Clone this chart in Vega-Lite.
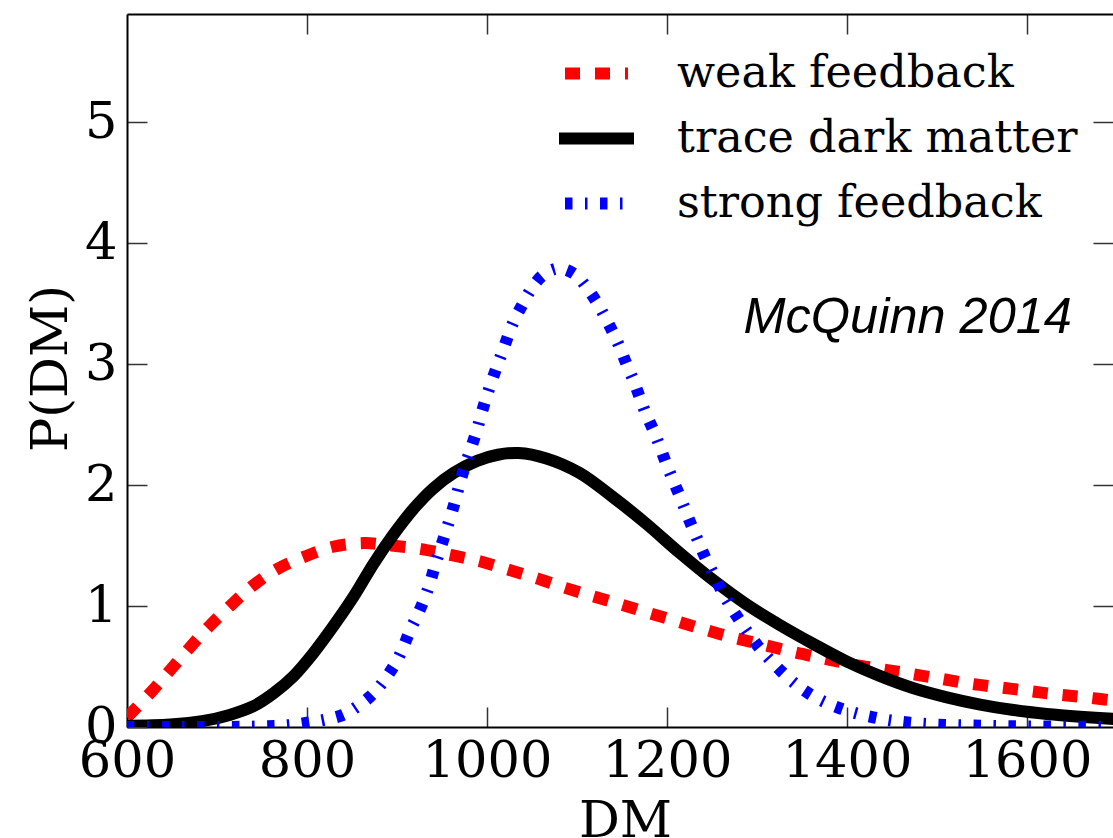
{
  "$schema": "https://vega.github.io/schema/vega-lite/v6.json",
  "width": 986,
  "height": 713,
  "autosize": "none",
  "padding": {"left": 127, "top": 14, "right": 0, "bottom": 111},
  "background": "white",
  "config": {
    "view": {"stroke": null},
    "axis": {
      "grid": false,
      "tickSize": -20,
      "tickColor": "#333333",
      "tickWidth": 1.5,
      "domainColor": "black",
      "domainWidth": 2,
      "labelFont": "DejaVu Serif",
      "labelFontSize": 51,
      "labelColor": "black",
      "labelPadding": 30,
      "labelOverlap": false,
      "labelFlush": false,
      "titleFont": "DejaVu Serif",
      "titleFontSize": 51,
      "titleFontWeight": "normal",
      "titleColor": "black"
    }
  },
  "data": {"values": [
    {"series": "weak feedback", "dm": 600, "p": 0.08},
    {"series": "weak feedback", "dm": 627, "p": 0.29},
    {"series": "weak feedback", "dm": 648, "p": 0.47},
    {"series": "weak feedback", "dm": 669, "p": 0.65},
    {"series": "weak feedback", "dm": 691, "p": 0.83},
    {"series": "weak feedback", "dm": 716, "p": 1.01},
    {"series": "weak feedback", "dm": 740, "p": 1.17},
    {"series": "weak feedback", "dm": 768, "p": 1.31},
    {"series": "weak feedback", "dm": 798, "p": 1.41},
    {"series": "weak feedback", "dm": 829, "p": 1.49},
    {"series": "weak feedback", "dm": 863, "p": 1.52},
    {"series": "weak feedback", "dm": 894, "p": 1.5},
    {"series": "weak feedback", "dm": 927, "p": 1.47},
    {"series": "weak feedback", "dm": 961, "p": 1.42},
    {"series": "weak feedback", "dm": 992, "p": 1.37},
    {"series": "weak feedback", "dm": 1024, "p": 1.3},
    {"series": "weak feedback", "dm": 1055, "p": 1.23},
    {"series": "weak feedback", "dm": 1087, "p": 1.15},
    {"series": "weak feedback", "dm": 1118, "p": 1.08},
    {"series": "weak feedback", "dm": 1150, "p": 1.01},
    {"series": "weak feedback", "dm": 1181, "p": 0.94},
    {"series": "weak feedback", "dm": 1213, "p": 0.87},
    {"series": "weak feedback", "dm": 1244, "p": 0.8},
    {"series": "weak feedback", "dm": 1276, "p": 0.735},
    {"series": "weak feedback", "dm": 1307, "p": 0.68},
    {"series": "weak feedback", "dm": 1340, "p": 0.62},
    {"series": "weak feedback", "dm": 1372, "p": 0.57},
    {"series": "weak feedback", "dm": 1404, "p": 0.52},
    {"series": "weak feedback", "dm": 1437, "p": 0.48},
    {"series": "weak feedback", "dm": 1470, "p": 0.44},
    {"series": "weak feedback", "dm": 1503, "p": 0.4},
    {"series": "weak feedback", "dm": 1535, "p": 0.36},
    {"series": "weak feedback", "dm": 1567, "p": 0.33},
    {"series": "weak feedback", "dm": 1600, "p": 0.3},
    {"series": "weak feedback", "dm": 1632, "p": 0.27},
    {"series": "weak feedback", "dm": 1665, "p": 0.245},
    {"series": "weak feedback", "dm": 1700, "p": 0.215},

    {"series": "trace dark matter", "dm": 600, "p": 0.01},
    {"series": "trace dark matter", "dm": 648, "p": 0.02},
    {"series": "trace dark matter", "dm": 685, "p": 0.05},
    {"series": "trace dark matter", "dm": 714, "p": 0.1},
    {"series": "trace dark matter", "dm": 740, "p": 0.17},
    {"series": "trace dark matter", "dm": 763, "p": 0.28},
    {"series": "trace dark matter", "dm": 785, "p": 0.42},
    {"series": "trace dark matter", "dm": 807, "p": 0.61},
    {"series": "trace dark matter", "dm": 829, "p": 0.83},
    {"series": "trace dark matter", "dm": 852, "p": 1.08},
    {"series": "trace dark matter", "dm": 874, "p": 1.35},
    {"series": "trace dark matter", "dm": 896, "p": 1.59},
    {"series": "trace dark matter", "dm": 918, "p": 1.8},
    {"series": "trace dark matter", "dm": 940, "p": 1.97},
    {"series": "trace dark matter", "dm": 963, "p": 2.1},
    {"series": "trace dark matter", "dm": 989, "p": 2.2},
    {"series": "trace dark matter", "dm": 1012, "p": 2.25},
    {"series": "trace dark matter", "dm": 1035, "p": 2.265},
    {"series": "trace dark matter", "dm": 1066, "p": 2.22},
    {"series": "trace dark matter", "dm": 1103, "p": 2.1},
    {"series": "trace dark matter", "dm": 1140, "p": 1.9},
    {"series": "trace dark matter", "dm": 1177, "p": 1.68},
    {"series": "trace dark matter", "dm": 1214, "p": 1.44},
    {"series": "trace dark matter", "dm": 1252, "p": 1.21},
    {"series": "trace dark matter", "dm": 1289, "p": 1.01},
    {"series": "trace dark matter", "dm": 1326, "p": 0.84},
    {"series": "trace dark matter", "dm": 1363, "p": 0.685},
    {"series": "trace dark matter", "dm": 1400, "p": 0.54},
    {"series": "trace dark matter", "dm": 1437, "p": 0.42},
    {"series": "trace dark matter", "dm": 1474, "p": 0.32},
    {"series": "trace dark matter", "dm": 1511, "p": 0.245},
    {"series": "trace dark matter", "dm": 1548, "p": 0.185},
    {"series": "trace dark matter", "dm": 1585, "p": 0.14},
    {"series": "trace dark matter", "dm": 1622, "p": 0.108},
    {"series": "trace dark matter", "dm": 1659, "p": 0.085},
    {"series": "trace dark matter", "dm": 1700, "p": 0.065},

    {"series": "strong feedback", "dm": 600, "p": 0.0},
    {"series": "strong feedback", "dm": 650, "p": 0.0},
    {"series": "strong feedback", "dm": 700, "p": 0.0},
    {"series": "strong feedback", "dm": 750, "p": 0.005},
    {"series": "strong feedback", "dm": 780, "p": 0.015},
    {"series": "strong feedback", "dm": 800, "p": 0.035},
    {"series": "strong feedback", "dm": 820, "p": 0.06},
    {"series": "strong feedback", "dm": 840, "p": 0.1},
    {"series": "strong feedback", "dm": 856, "p": 0.17},
    {"series": "strong feedback", "dm": 870, "p": 0.25},
    {"series": "strong feedback", "dm": 880, "p": 0.33},
    {"series": "strong feedback", "dm": 890, "p": 0.43},
    {"series": "strong feedback", "dm": 900, "p": 0.55},
    {"series": "strong feedback", "dm": 907, "p": 0.66},
    {"series": "strong feedback", "dm": 914, "p": 0.79},
    {"series": "strong feedback", "dm": 923, "p": 0.93},
    {"series": "strong feedback", "dm": 931, "p": 1.07},
    {"series": "strong feedback", "dm": 937, "p": 1.2},
    {"series": "strong feedback", "dm": 942, "p": 1.33},
    {"series": "strong feedback", "dm": 948, "p": 1.47},
    {"series": "strong feedback", "dm": 954, "p": 1.61},
    {"series": "strong feedback", "dm": 960, "p": 1.75},
    {"series": "strong feedback", "dm": 965, "p": 1.88},
    {"series": "strong feedback", "dm": 970, "p": 2.02},
    {"series": "strong feedback", "dm": 976, "p": 2.17},
    {"series": "strong feedback", "dm": 982, "p": 2.3},
    {"series": "strong feedback", "dm": 989, "p": 2.46},
    {"series": "strong feedback", "dm": 995, "p": 2.62},
    {"series": "strong feedback", "dm": 1003, "p": 2.81},
    {"series": "strong feedback", "dm": 1011, "p": 2.98},
    {"series": "strong feedback", "dm": 1018, "p": 3.12},
    {"series": "strong feedback", "dm": 1029, "p": 3.34},
    {"series": "strong feedback", "dm": 1040, "p": 3.5},
    {"series": "strong feedback", "dm": 1050, "p": 3.63},
    {"series": "strong feedback", "dm": 1063, "p": 3.74},
    {"series": "strong feedback", "dm": 1080, "p": 3.79},
    {"series": "strong feedback", "dm": 1098, "p": 3.74},
    {"series": "strong feedback", "dm": 1111, "p": 3.63},
    {"series": "strong feedback", "dm": 1122, "p": 3.51},
    {"series": "strong feedback", "dm": 1131, "p": 3.39},
    {"series": "strong feedback", "dm": 1140, "p": 3.26},
    {"series": "strong feedback", "dm": 1148, "p": 3.13},
    {"series": "strong feedback", "dm": 1155, "p": 3.0},
    {"series": "strong feedback", "dm": 1163, "p": 2.86},
    {"series": "strong feedback", "dm": 1169, "p": 2.74},
    {"series": "strong feedback", "dm": 1176, "p": 2.6},
    {"series": "strong feedback", "dm": 1185, "p": 2.45},
    {"series": "strong feedback", "dm": 1192, "p": 2.32},
    {"series": "strong feedback", "dm": 1198, "p": 2.2},
    {"series": "strong feedback", "dm": 1205, "p": 2.07},
    {"series": "strong feedback", "dm": 1213, "p": 1.93},
    {"series": "strong feedback", "dm": 1220, "p": 1.8},
    {"series": "strong feedback", "dm": 1227, "p": 1.67},
    {"series": "strong feedback", "dm": 1235, "p": 1.53},
    {"series": "strong feedback", "dm": 1242, "p": 1.41},
    {"series": "strong feedback", "dm": 1252, "p": 1.26},
    {"series": "strong feedback", "dm": 1259, "p": 1.15},
    {"series": "strong feedback", "dm": 1268, "p": 1.03},
    {"series": "strong feedback", "dm": 1279, "p": 0.9},
    {"series": "strong feedback", "dm": 1290, "p": 0.78},
    {"series": "strong feedback", "dm": 1301, "p": 0.67},
    {"series": "strong feedback", "dm": 1314, "p": 0.56},
    {"series": "strong feedback", "dm": 1327, "p": 0.46},
    {"series": "strong feedback", "dm": 1342, "p": 0.36},
    {"series": "strong feedback", "dm": 1357, "p": 0.28},
    {"series": "strong feedback", "dm": 1374, "p": 0.21},
    {"series": "strong feedback", "dm": 1392, "p": 0.155},
    {"series": "strong feedback", "dm": 1410, "p": 0.113},
    {"series": "strong feedback", "dm": 1429, "p": 0.08},
    {"series": "strong feedback", "dm": 1448, "p": 0.055},
    {"series": "strong feedback", "dm": 1470, "p": 0.035},
    {"series": "strong feedback", "dm": 1500, "p": 0.02},
    {"series": "strong feedback", "dm": 1550, "p": 0.01},
    {"series": "strong feedback", "dm": 1600, "p": 0.005},
    {"series": "strong feedback", "dm": 1650, "p": 0.003},
    {"series": "strong feedback", "dm": 1700, "p": 0.002},

    {"series": "label", "dm": 1650, "p": 3.26, "text": "McQuinn 2014"}
  ]},
  "resolve": {"axis": {"x": "independent", "y": "independent"}},
  "layer": [
    {
      "transform": [{"filter": "datum.series === 'weak feedback'"}],
      "mark": {"type": "line", "strokeWidth": 12, "clip": true, "interpolate": "catmull-rom", "strokeCap": "butt"},
      "encoding": {
        "x": {"field": "dm", "type": "quantitative",
          "scale": {"domain": [600, 1695.6], "nice": false, "zero": false},
          "axis": {"orient": "bottom", "values": [600, 800, 1000, 1200, 1400, 1600], "format": "d", "title": "DM", "titleX": 498, "titleY": 109, "titleBaseline": "alphabetic", "titleAlign": "center", "labelBaseline": "alphabetic", "labelPadding": 69}},
        "y": {"field": "p", "type": "quantitative",
          "scale": {"domain": [0, 5.893], "nice": false, "zero": false},
          "axis": {"orient": "left", "values": [0, 1, 2, 3, 4, 5], "format": "d", "title": "P(DM)", "titleX": -76, "titleY": 354, "titleAngle": -90, "titleBaseline": "middle", "titleAlign": "center"}},
        "color": {"field": "series", "type": "nominal",
          "scale": {"domain": ["weak feedback", "trace dark matter", "strong feedback"], "range": ["#ff0000", "#000000", "#0000ff"]},
          "legend": {"orient": "none", "legendX": 432, "legendY": 22, "title": null, "symbolType": "stroke", "symbolSize": 3969, "symbolStrokeWidth": 12, "labelFont": "DejaVu Serif", "labelFontSize": 44.5, "labelColor": "black", "labelOffset": 43, "rowPadding": 3, "labelLimit": 0, "padding": 0, "offset": 0,
            "encode": {"symbols": {"update": {"strokeCap": [{"test": "datum.value === 'trace dark matter'", "value": "square"}, {"value": "butt"}]}}}}},
        "strokeDash": {"field": "series", "type": "nominal",
          "scale": {"domain": ["weak feedback", "trace dark matter", "strong feedback"], "range": [[15, 15], [100000, 0], [7.5, 12.5, 2.5, 12.5]]},
          "legend": {"orient": "none", "legendX": 432, "legendY": 22, "title": null, "symbolType": "stroke", "symbolSize": 3969, "symbolStrokeWidth": 12, "labelFont": "DejaVu Serif", "labelFontSize": 44.5, "labelColor": "black", "labelOffset": 43, "rowPadding": 3, "labelLimit": 0, "padding": 0, "offset": 0,
            "encode": {"symbols": {"update": {"strokeCap": [{"test": "datum.value === 'trace dark matter'", "value": "square"}, {"value": "butt"}]}}}}}
      }
    },
    {
      "transform": [{"filter": "datum.series === 'trace dark matter'"}],
      "mark": {"type": "line", "strokeWidth": 12, "clip": true, "interpolate": "catmull-rom", "strokeCap": "butt"},
      "encoding": {
        "x": {"field": "dm", "type": "quantitative",
          "axis": {"orient": "top", "values": [800, 1000, 1200, 1400, 1600], "labels": false, "title": null}},
        "y": {"field": "p", "type": "quantitative",
          "axis": {"orient": "right", "values": [1, 2, 3, 4, 5], "labels": false, "title": null, "domain": false}},
        "color": {"field": "series", "type": "nominal"},
        "strokeDash": {"field": "series", "type": "nominal"}
      }
    },
    {
      "transform": [{"filter": "datum.series === 'strong feedback'"}],
      "mark": {"type": "line", "strokeWidth": 12, "clip": true, "interpolate": "catmull-rom", "strokeCap": "butt"},
      "encoding": {
        "x": {"field": "dm", "type": "quantitative", "axis": null},
        "y": {"field": "p", "type": "quantitative", "axis": null},
        "color": {"field": "series", "type": "nominal"},
        "strokeDash": {"field": "series", "type": "nominal"}
      }
    },
    {
      "transform": [{"filter": "datum.series === 'label'"}],
      "mark": {"type": "text", "font": "Liberation Sans", "fontStyle": "italic", "fontSize": 50.5, "align": "right", "baseline": "alphabetic", "color": "black"},
      "encoding": {
        "x": {"field": "dm", "type": "quantitative", "axis": null},
        "y": {"field": "p", "type": "quantitative", "axis": null},
        "text": {"field": "text"}
      }
    }
  ]
}
